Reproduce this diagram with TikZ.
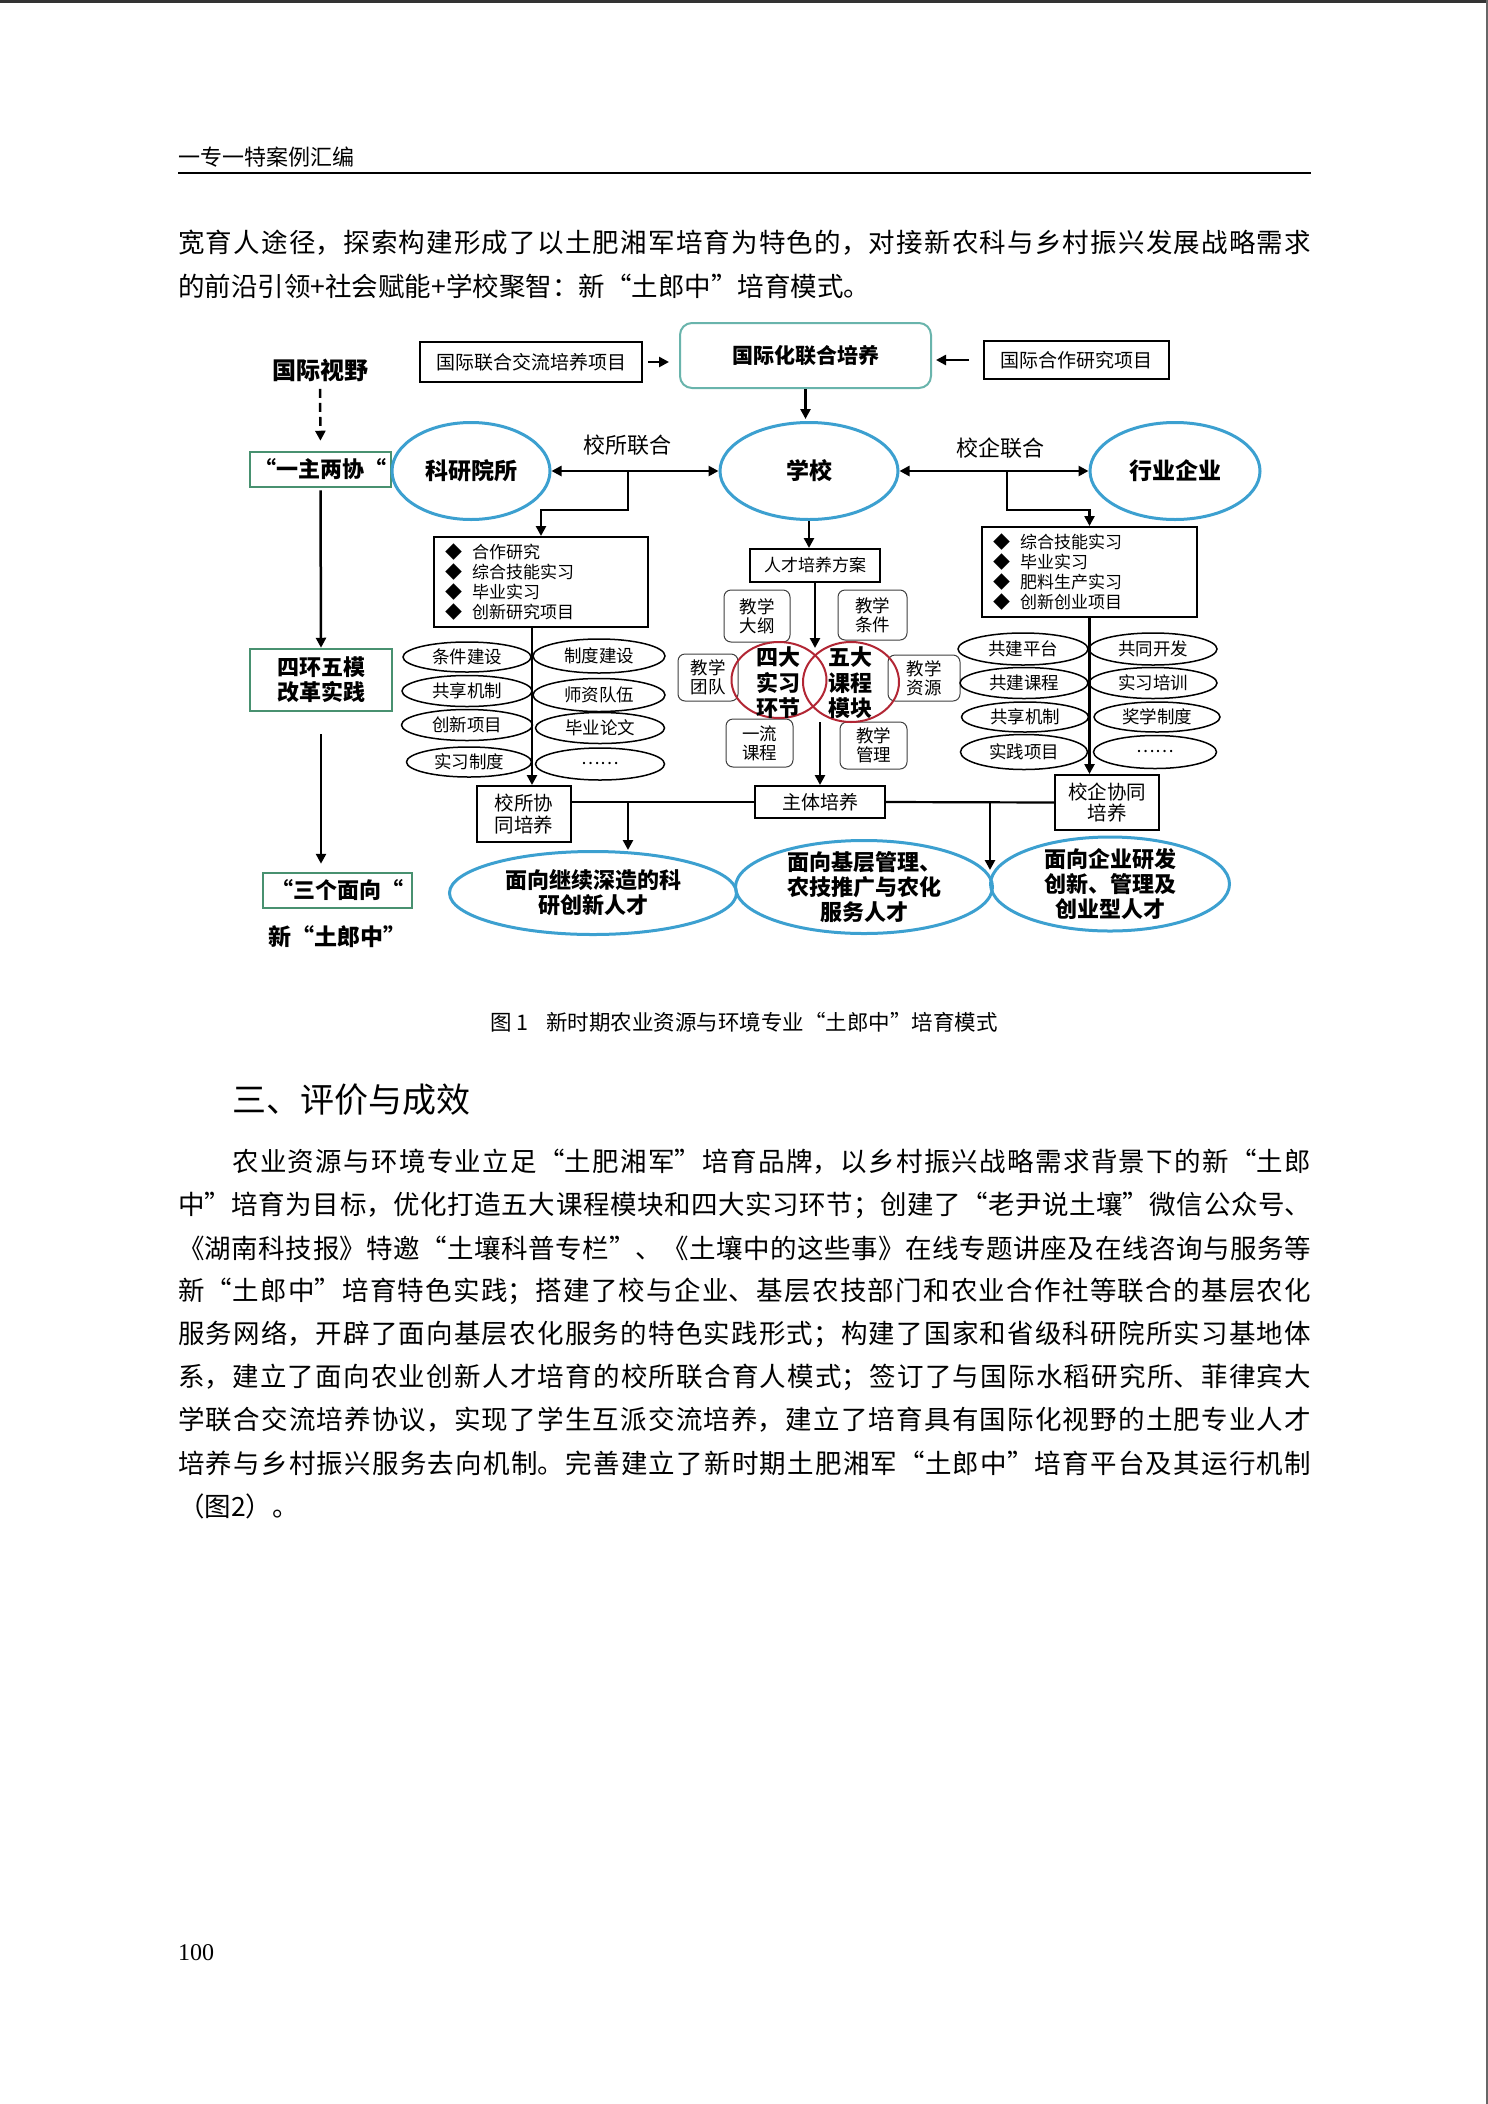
\documentclass[tikz,border=0pt]{standalone}
\usepackage{fontspec}
\setmainfont{Noto Sans CJK SC}
\newfontfamily\pagenumfont{Liberation Serif}
\usetikzlibrary{arrows.meta,shapes.geometric,positioning}
\XeTeXlinebreaklocale "zh"
\XeTeXlinebreakskip=0pt plus 4pt minus 0.5pt

\definecolor{ellblue}{RGB}{60,160,208}
\definecolor{framegreen}{RGB}{72,145,112}
\definecolor{frameteal}{RGB}{105,180,172}
\definecolor{ringred}{RGB}{178,38,52}

\tikzset{
  bodytext/.style={inner sep=0pt, anchor=west, text width=1133pt, align=justify, font=\fontsize{26.5}{30}\selectfont},
  arr/.style={line width=2.5pt, -{Triangle[length=10pt,width=10pt]}},
  dblarr/.style={line width=2.5pt, {Triangle[length=10pt,width=10pt]}-{Triangle[length=10pt,width=10pt]}},
  link/.style={line width=2.2pt},
  blueell/.style={ellipse, draw=ellblue, line width=3pt, inner sep=0pt, font=\bfseries\fontsize{23}{25}\selectfont, align=center},
  blackbox/.style={draw, line width=2pt, inner sep=0pt, font=\fontsize{19}{22}\selectfont, align=center},
  greenbox/.style={draw=framegreen, line width=2.5pt, inner sep=0pt, font=\bfseries\fontsize{22}{25}\selectfont, align=center},
  listbox/.style={draw, line width=2pt, inner xsep=11pt, inner ysep=0pt, font=\fontsize{17}{20.3}\selectfont, align=left},
  softbox/.style={draw=black!75, line width=1pt, rounded corners=7pt, inner sep=0pt, font=\fontsize{17.5}{19}\selectfont, align=center},
  ring/.style={ellipse, draw=ringred, line width=2pt, inner sep=0pt},
  ringtext/.style={inner sep=0pt, font=\bfseries\fontsize{22}{25.5}\selectfont, align=center},
  smallell/.style={ellipse, draw, line width=1.5pt, inner sep=0pt, font=\fontsize{17.5}{20}\selectfont},
  bigtext/.style={inner sep=0pt, font=\bfseries\fontsize{22}{25}\selectfont, align=center},
}

% one justified line of body text, and the last line of a paragraph
\newcommand{\jline}[3]{\node[bodytext] (#1) at (178,#2) {\parfillskip=0pt #3\par};}
\newcommand{\eline}[3]{\node[bodytext, align=left] (#1) at (178,#2) {#3};}

\begin{document}
\begin{tikzpicture}[x=1pt, y=-1pt]
  \fill[white] (0,0) rectangle (1488,2104);
  \useasboundingbox (0,0) rectangle (1488,2104);
  % Page frame
  \draw[line width=3pt, black!80] (0,1.5) -- (1488,1.5);
  \draw[line width=2pt, black!60] (1487,0) -- (1487,2104);

  % Header
  \node[anchor=west, inner sep=0pt, font=\fontsize{22}{24}\selectfont] (hdr) at (178,157) {一专一特案例汇编};
  \draw[line width=2pt] (178,173) -- (1311,173);

  % Text above the figure
  \jline{pa1}{243}{宽育人途径，探索构建形成了以土肥湘军培育为特色的，对接新农科与乡村振兴发展战略需求}
  \eline{pa2}{286}{的前沿引领+社会赋能+学校聚智：新“土郎中”培育模式。}

  % Left column
  \node[font=\bfseries\fontsize{24}{26}\selectfont] (gjsy) at (320,370) {国际视野};
  \node[greenbox, minimum width=141pt, minimum height=35pt] (yzlx) at (320.5,469.5) {“一主两协“};
  \node[greenbox, minimum width=142pt, minimum height=62pt] (shwm) at (321,680) {四环五模\\改革实践};
  \node[greenbox, minimum width=149pt, minimum height=35pt] (sgmx) at (337.5,890.5) {“三个面向“};
  \node[font=\bfseries\fontsize{23}{25}\selectfont] (xtlz) at (337,937) {新“土郎中”};
  \draw[arr, dash pattern=on 9pt off 5pt, shorten <=4pt, shorten >=10pt] (gjsy.south) -- (yzlx.north);
  \draw[arr, shorten <=2pt] (yzlx.south) -- (shwm.north);
  \draw[arr, shorten <=22pt, shorten >=8pt] (shwm.south) -- (shwm.south |- sgmx.north);

  % Top row
  \node[blackbox, minimum width=222pt, minimum height=40pt] (gjjl) at (531,362) {国际联合交流培养项目};
  \node[draw=frameteal, line width=2pt, rounded corners=12pt, minimum width=251pt, minimum height=65pt,
        font=\bfseries\fontsize{21}{24}\selectfont] (gjpy) at (805.5,355.5) {国际化联合培养};
  \node[blackbox, minimum width=185pt, minimum height=38pt] (gjhz) at (1076.5,360) {国际合作研究项目};
  \draw[arr, shorten <=5pt, shorten >=10pt] (gjjl.east) -- (gjjl.east -| gjpy.west);
  \draw[arr, shorten <=14pt, shorten >=4pt] (gjhz.west) -- (gjhz.west -| gjpy.east);

  % Three partners
  \node[blueell, minimum width=158pt, minimum height=97pt] (kyys) at (471,471) {科研院所};
  \node[blueell, minimum width=178pt, minimum height=97pt] (xx) at (809,471) {学校};
  \node[blueell, minimum width=170pt, minimum height=97pt] (hyqy) at (1175,471) {行业企业};
  \draw[arr, shorten >=2pt] (gjpy.south) -- (gjpy.south |- xx.north);
  \draw[dblarr] (kyys.east) -- (xx.west);
  \draw[dblarr] (xx.east) -- (hyqy.west);
  \node[font=\fontsize{22}{24}\selectfont] (xslh) at (627,445) {校所联合};
  \node[font=\fontsize{22}{24}\selectfont] (xqlh) at (1000,448) {校企联合};

  % Lists under the two links
  \node[listbox, text width=192pt, minimum height=90pt] (kyjy) at (541,582)
    {◆\hspace{10pt}合作研究\\◆\hspace{10pt}综合技能实习\\◆\hspace{10pt}毕业实习\\◆\hspace{10pt}创新研究项目};
  \node[listbox, text width=193pt, minimum height=90pt] (qyjy) at (1089.5,572)
    {◆\hspace{10pt}综合技能实习\\◆\hspace{10pt}毕业实习\\◆\hspace{10pt}肥料生产实习\\◆\hspace{10pt}创新创业项目};
  \coordinate (xsfork) at (628,472);
  \coordinate (xqfork) at (1007,472);
  \draw[arr] (xsfork) -- ++(0,38) -| (kyjy.north);
  \draw[arr] (xqfork) -- ++(0,38) -| (qyjy.north);

  % Centre: training plan
  \node[blackbox, minimum width=130pt, minimum height=33pt, font=\fontsize{17}{20}\selectfont] (rcpy) at (815,565.5) {人才培养方案};
  \draw[arr] (xx.south) -- (xx.south |- rcpy.north);
  \node[softbox, minimum width=66pt, minimum height=52pt] (jxdg) at (757,616) {教学\\大纲};
  \node[softbox, minimum width=69pt, minimum height=50pt] (jxtj) at (872.5,615) {教学\\条件};
  \node[softbox, minimum width=60pt, minimum height=47pt] (jxtd) at (708,677.5) {教学\\团队};
  \node[softbox, minimum width=72pt, minimum height=46pt] (jxzy) at (924,678) {教学\\资源};
  \node[softbox, minimum width=67pt, minimum height=48pt] (ylkc) at (759.5,743) {一流\\课程};
  \node[softbox, minimum width=67pt, minimum height=47pt] (jxgl) at (873.5,745.5) {教学\\管理};
  \node[ring, minimum width=95pt, minimum height=76pt] (sdhj) at (779,680) {};
  \node[ring, minimum width=96pt, minimum height=80pt] (wdmk) at (851,682) {};
  \node[ringtext] (sdtxt) at (778,683) {四大\\实习\\环节};
  \node[ringtext] (wdtxt) at (850,683) {五大\\课程\\模块};
  \coordinate (lenstop) at (815,648);
  \coordinate (lensbot) at (820,722);
  \draw[arr] (rcpy.south) -- (lenstop);
  \node[blackbox, minimum width=130pt, minimum height=32pt] (ztpy) at (820,802) {主体培养};
  \draw[arr] (lensbot) -- (lensbot |- ztpy.north);

  % Left group of measures
  \node[smallell, minimum width=128pt, minimum height=30pt] (tjjs) at (467,657) {条件建设};
  \node[smallell, minimum width=130pt, minimum height=31pt] (gxjz) at (467,691) {共享机制};
  \node[smallell, minimum width=131pt, minimum height=31pt] (cxxm) at (467,725) {创新项目};
  \node[smallell, minimum width=125pt, minimum height=30pt] (sxzd) at (469,762) {实习制度};
  \node[smallell, minimum width=132pt, minimum height=34pt] (zdjs) at (599,656) {制度建设};
  \node[smallell, minimum width=132pt, minimum height=33pt] (szdw) at (599,695) {师资队伍};
  \node[smallell, minimum width=129pt, minimum height=31pt] (bylw) at (600,728) {毕业论文};
  \node[smallell, minimum width=129pt, minimum height=32pt] (lmore) at (600,764) {……};
  \node[blackbox, minimum width=94pt, minimum height=56pt, font=\fontsize{19.5}{22}\selectfont] (xsxt) at (524,814) {校所协\\同培养};
  \coordinate (ksline) at (532,0);
  \draw[arr] (kyjy.south -| ksline) -- (xsxt.north -| ksline);

  % Right group of measures
  \node[smallell, minimum width=130pt, minimum height=32pt] (gjpt) at (1023,649) {共建平台};
  \node[smallell, minimum width=128pt, minimum height=31pt] (gjkc) at (1024,683) {共建课程};
  \node[smallell, minimum width=127pt, minimum height=30pt] (gxjzb) at (1025,717) {共享机制};
  \node[smallell, minimum width=127pt, minimum height=35pt] (sjxm) at (1024,752) {实践项目};
  \node[smallell, minimum width=128pt, minimum height=32pt] (gtkf) at (1153,649) {共同开发};
  \node[smallell, minimum width=128pt, minimum height=31pt] (sxpx) at (1153,683) {实习培训};
  \node[smallell, minimum width=126pt, minimum height=30pt] (jxzd) at (1157,717) {奖学制度};
  \node[smallell, minimum width=123pt, minimum height=33pt] (rmore) at (1155,752) {……};
  \node[blackbox, minimum width=104pt, minimum height=55pt, font=\fontsize{19.5}{21}\selectfont] (xqxt) at (1107,802.5) {校企协同\\培养};
  \draw[arr] (qyjy.south) -- (qyjy.south |- xqxt.north);

  % Joint training line
  \draw[link] (xsxt.east |- ztpy.west) -- (ztpy.west);
  \draw[link] (ztpy.east) -- (xqxt.west);

  % Three outcomes
  \node[blueell, minimum width=287pt, minimum height=83pt,
        label={[bigtext]center:{面向继续深造的科\\研创新人才}}] (jxsz) at (593,893) {};
  \node[blueell, minimum width=257pt, minimum height=93pt,
        label={[bigtext]center:{面向基层管理、\\农技推广与农化\\服务人才}}] (jcgl) at (864,887) {};
  \node[blueell, minimum width=239pt, minimum height=94pt,
        label={[bigtext]center:{面向企业研发\\创新、管理及\\创业型人才}}] (qyyf) at (1110,884) {};
  \coordinate (dfork1) at (628,802);
  \coordinate (dfork2) at (990,802);
  \coordinate (dend2) at (990,870);
  \draw[arr] (dfork1) -- (dfork1 |- jxsz.north);
  \draw[arr] (dfork2) -- (dend2);

  % Caption and section
  \node[font=\fontsize{21.5}{24}\selectfont] (cap) at (744,1022) {图 1\hspace{18pt}新时期农业资源与环境专业“土郎中”培育模式};
  \node[anchor=west, inner sep=0pt, font=\fontsize{34}{36}\selectfont] (sec) at (232,1100) {三、评价与成效};

  % Paragraph
  \jline{pb1}{1162}{\hspace*{54pt}农业资源与环境专业立足“土肥湘军”培育品牌，以乡村振兴战略需求背景下的新“土郎}
  \jline{pb2}{1205}{中”培育为目标，优化打造五大课程模块和四大实习环节；创建了“老尹说土壤”微信公众号、}
  \jline{pb3}{1248}{《湖南科技报》特邀“土壤科普专栏”、《土壤中的这些事》在线专题讲座及在线咨询与服务等}
  \jline{pb4}{1291}{新“土郎中”培育特色实践；搭建了校与企业、基层农技部门和农业合作社等联合的基层农化}
  \jline{pb5}{1334}{服务网络，开辟了面向基层农化服务的特色实践形式；构建了国家和省级科研院所实习基地体}
  \jline{pb6}{1377}{系，建立了面向农业创新人才培育的校所联合育人模式；签订了与国际水稻研究所、菲律宾大}
  \jline{pb7}{1420}{学联合交流培养协议，实现了学生互派交流培养，建立了培育具有国际化视野的土肥专业人才}
  \jline{pb8}{1463}{培养与乡村振兴服务去向机制。完善建立了新时期土肥湘军“土郎中”培育平台及其运行机制}
  \eline{pb9}{1506}{（图2）。}

  % Page number
  \node[anchor=west, inner sep=0pt, font=\pagenumfont\fontsize{24}{26}\selectfont] (pg) at (178,1953) {100};
\end{tikzpicture}
\end{document}
